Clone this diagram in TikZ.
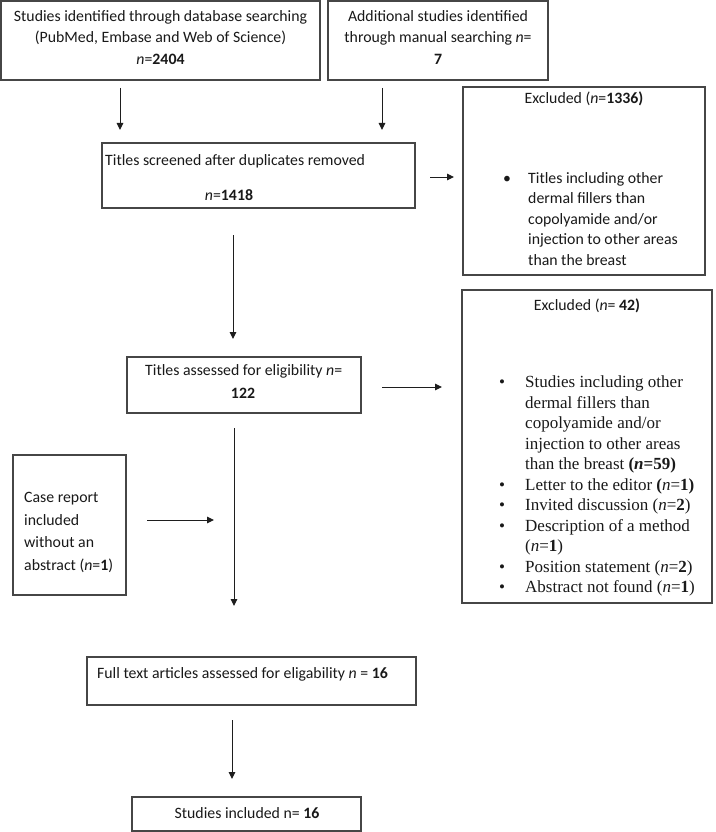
\documentclass[tikz,border=0pt]{standalone}
\usepackage{fontspec}
\setmainfont{Carlito}
\newfontfamily\seriffont{Liberation Serif}
\usetikzlibrary{arrows.meta}
\definecolor{boxgray}{RGB}{70,70,70}
\definecolor{arrowcol}{RGB}{30,30,30}
\definecolor{txtcol}{RGB}{25,25,25}
\begin{document}
\begin{tikzpicture}[x=1pt,y=-1pt,
  box/.style={draw=boxgray, line width=1.3pt, inner sep=0pt, outer sep=0pt},
  txt/.style={inner sep=0pt, anchor=base, text=txtcol, font=\fontsize{15.8}{19}\selectfont},
  txtw/.style={txt, anchor=base west},
  ser/.style={inner sep=0pt, anchor=base west, text=txtcol, font=\seriffont\fontsize{17}{20}\selectfont},
  serb/.style={ser, anchor=base},
  arr/.style={-{Triangle[length=7pt,width=6.5pt]}, line width=1pt, draw=arrowcol}]
\useasboundingbox (0,0) rectangle (715,832);
\fill[white] (0,0) rectangle (715,832);

% boxes
\node[box, minimum width=319pt, minimum height=79pt] (b1) at (160.5,40.5) {};
\node[box, minimum width=220pt, minimum height=79pt] (b2) at (438,40.5) {};
\node[box, minimum width=313pt, minimum height=65pt] (b3) at (258.5,175.5) {};
\node[box, minimum width=242pt, minimum height=188pt] (e1) at (584,181) {};
\node[box, minimum width=234pt, minimum height=56pt] (b4) at (244,385) {};
\node[box, minimum width=250pt, minimum height=313pt] (e2) at (587,446.5) {};
\node[box, minimum width=113pt, minimum height=140pt] (c1) at (69.5,525) {};
\node[box, minimum width=329pt, minimum height=48pt] (b5) at (251.5,681) {};
\node[box, minimum width=229pt, minimum height=34pt] (b6) at (246.5,814) {};

% box 1 text
\node[txt] (t1a) at (160.5,22) {Studies identified through database searching};
\node[txt] (t1b) at (160.5,43) {(PubMed, Embase and Web of Science)};
\node[txt] (t1c) at (160.5,65) {\textit{n}=\textbf{2404}};
% box 2 text
\node[txt] (t2a) at (438,22) {Additional studies identified};
\node[txt] (t2b) at (438,43) {through manual searching \textit{n}=};
\node[txt] (t2c) at (438,65) {\textbf{7}};
% box 3 text
\node[txtw] (t3a) at (105,165) {Titles screened after duplicates removed};
\node[txt] (t3b) at (229,200) {\textit{n}=\textbf{1418}};
% excluded 1
\node[txt] (te1) at (584,103) {Excluded (\textit{n}=\textbf{1336)}};
\node[txt] (be1) at (507,183) {\textbullet};
\foreach \s [count=\i from 0] in {Titles including other,dermal fillers than,copolyamide and/or,injection to other areas,than the breast}{
  \node[txtw] (le1-\i) at (528,183+20.5*\i) {\s};
}
% box 4 text
\node[txtw] (t4a) at (145,375) {Titles assessed for eligibility \textit{n}=};
\node[txt] (t4b) at (243,398) {\textbf{122}};
% excluded 2
\node[txt] (te2) at (587,310) {Excluded (\textit{n}= \textbf{42)}};
\node[serb] (be2a) at (502,387.5) {\textbullet};
\node[serb] (be2b) at (502,490) {\textbullet};
\node[serb] (be2c) at (502,510.5) {\textbullet};
\node[serb] (be2d) at (502,531) {\textbullet};
\node[serb] (be2e) at (502,572) {\textbullet};
\node[serb] (be2f) at (502,592.5) {\textbullet};
\node[ser] (l2-0) at (525,387.5) {Studies including other};
\node[ser] (l2-1) at (525,408) {dermal fillers than};
\node[ser] (l2-2) at (525,428.5) {copolyamide and/or};
\node[ser] (l2-3) at (525,449) {injection to other areas};
\node[ser] (l2-4) at (525,469.5) {than the breast \textbf{(\textit{n}=59)}};
\node[ser] (l2-5) at (525,490) {Letter to the editor \textbf{(}\textit{n}=\textbf{1)}};
\node[ser] (l2-6) at (525,510.5) {Invited discussion (\textit{n}=\textbf{2})};
\node[ser] (l2-7) at (525,531) {Description of a method};
\node[ser] (l2-8) at (525,551.5) {(\textit{n}=\textbf{1})};
\node[ser] (l2-9) at (525,572) {Position statement (\textit{n}=\textbf{2})};
\node[ser] (l2-10) at (525,592.5) {Abstract not found (\textit{n}=\textbf{1})};
% case report
\node[txtw] (tc1) at (24,502) {Case report};
\node[txtw] (tc2) at (24,525) {included};
\node[txtw] (tc3) at (24,547) {without an};
\node[txtw] (tc4) at (24,570) {abstract (\textit{n}=\textbf{1})};
% box 5, 6
\node[txtw] (t5) at (97,678) {Full text articles assessed for eligability \textit{n} = \textbf{16}};
\node[txt] (t6) at (247,818) {Studies included n= \textbf{16}};

% arrow end points
\coordinate (a1s) at (120,88);  \coordinate (a1e) at (120,130);
\coordinate (a2s) at (382,88);  \coordinate (a2e) at (382,130);
\coordinate (a3s) at (430,177); \coordinate (a3e) at (454,177);
\coordinate (a4s) at (233,235); \coordinate (a4e) at (233,339);
\coordinate (a5s) at (382,387); \coordinate (a5e) at (442,387);
\coordinate (a6s) at (234,428); \coordinate (a6e) at (234,606);
\coordinate (a7s) at (147,520); \coordinate (a7e) at (214,520);
\coordinate (a8s) at (232,720); \coordinate (a8e) at (232,779);
\draw[arr] (a1s) -- (a1e);
\draw[arr] (a2s) -- (a2e);
\draw[arr] (a3s) -- (a3e);
\draw[arr] (a4s) -- (a4e);
\draw[arr] (a5s) -- (a5e);
\draw[arr] (a6s) -- (a6e);
\draw[arr] (a7s) -- (a7e);
\draw[arr] (a8s) -- (a8e);
\end{tikzpicture}
\end{document}
